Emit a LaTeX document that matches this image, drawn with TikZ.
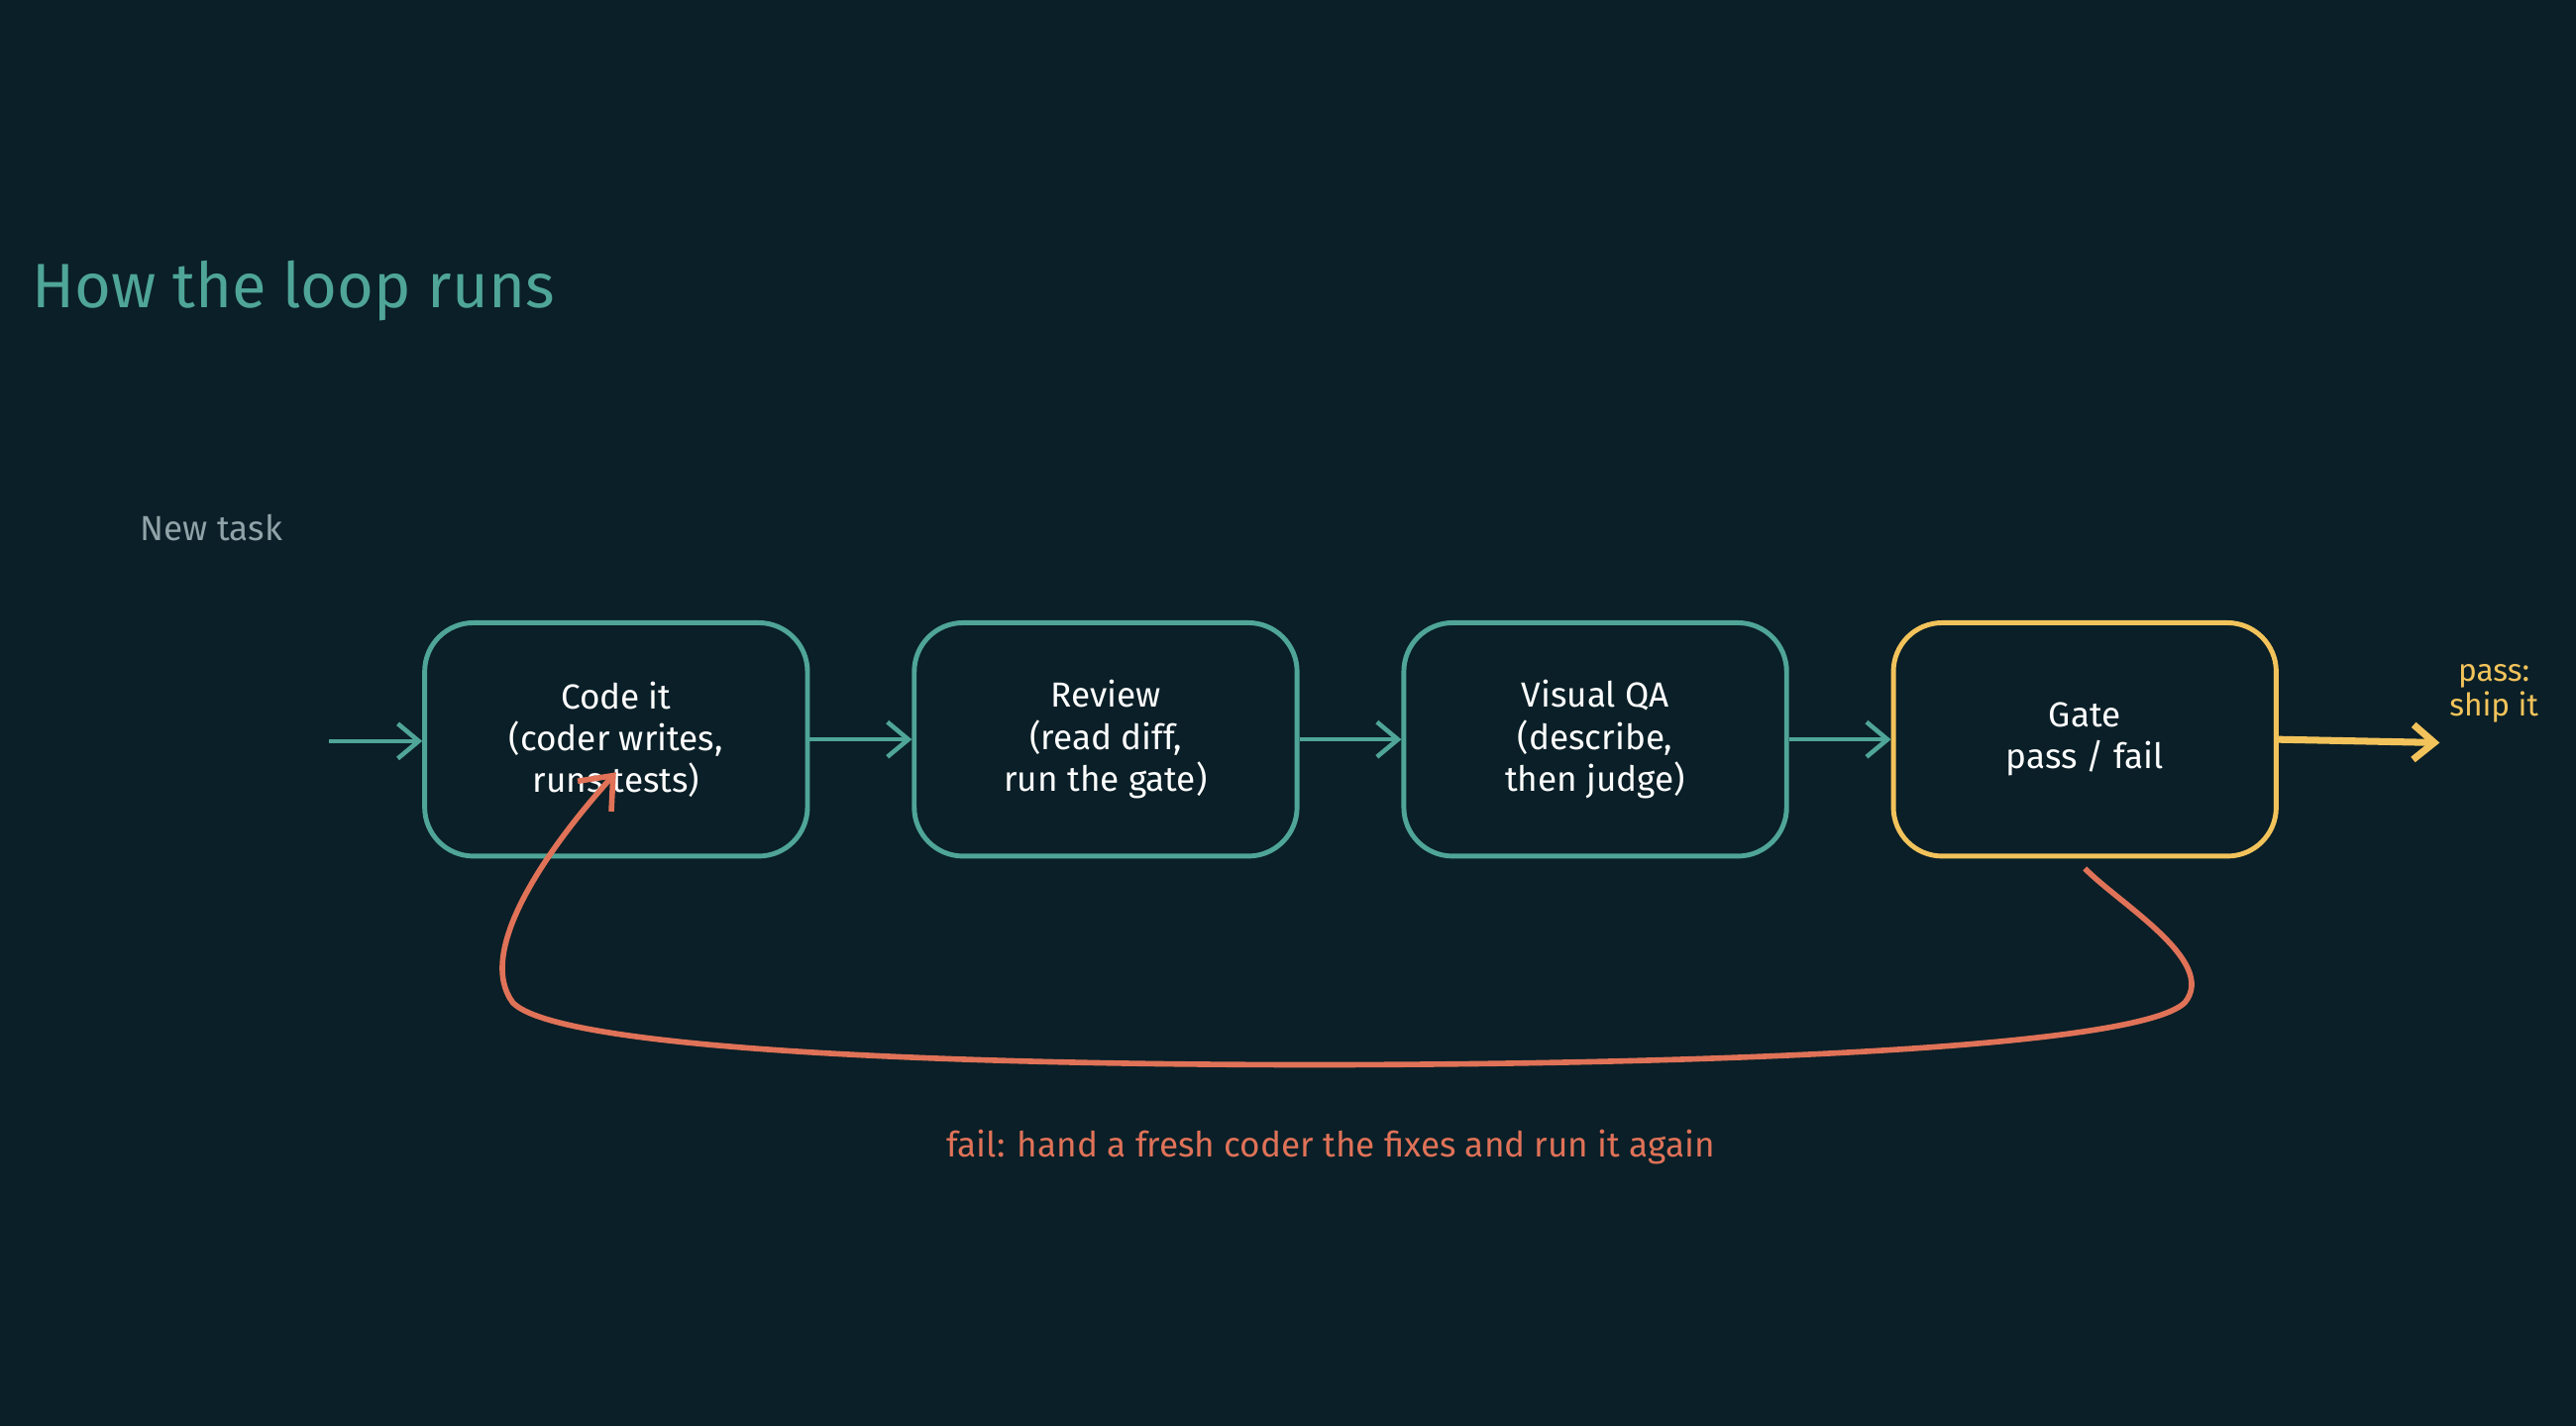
\documentclass[tikz,border=0pt]{standalone}
\usepackage{fontspec}
\setmainfont{Fira Sans}
\usetikzlibrary{arrows.meta}
\definecolor{bg}{HTML}{0A1F27}
\definecolor{teal}{HTML}{4FA597}
\definecolor{gold}{HTML}{F2C35B}
\definecolor{coral}{HTML}{E07258}
\definecolor{muted}{HTML}{8FA3A8}
\begin{document}
\begin{tikzpicture}[x=0.01658cm,y=-0.01658cm,
  box/.style={draw=teal,line width=1.4pt,rounded corners=14pt,minimum width=233*0.01658cm,minimum height=142*0.01658cm,align=center,text=white,font=\fontsize{10}{12}\selectfont},
  arr/.style={draw=teal,line width=1.3pt,-{Straight Barb[length=6pt,width=10pt]}}]
\fill[bg] (0,0) rectangle (1568,868);
\useasboundingbox (0,0) rectangle (1568,868);
\node[anchor=west,text=teal,font=\fontsize{18}{20}\selectfont] (title) at (12,177) {How the loop runs};
\node[anchor=west,text=muted,font=\fontsize{10}{12}\selectfont] (new) at (78,321) {New task};
\node[box] (code) at (375,450) {Code it\\(coder writes,\\runs tests)};
\node[box] (rev) at (673,450) {Review\\(read diff,\\run the gate)};
\node[box] (qa) at (971,450) {Visual QA\\(describe,\\then judge)};
\node[box,draw=gold] (gate) at (1269,450) {Gate\\pass / fail};
\coordinate (start) at (200,451);
\coordinate (ship) at (1485,452);
\node[align=center,text=gold,font=\fontsize{9}{10}\selectfont] (pass) at (1518,422) {pass:\\ship it};
\node[text=coral,font=\fontsize{10}{12}\selectfont] (fail) at (810,698) {fail: hand a fresh coder the fixes and run it again};
\draw[arr] (start) -- (start -| code.west);
\draw[arr] (code.east) -- (rev.west);
\draw[arr] (rev.east) -- (qa.west);
\draw[arr] (qa.east) -- (gate.west);
\draw[arr,draw=gold,line width=2pt] (gate.east) -- (ship);
\draw[draw=coral,line width=1.6pt,-{Straight Barb[length=8pt,width=13pt]}]
  ([yshift=-6*0.01658cm]gate.south) .. controls (1290,550) and (1350,585) .. (1330,610)
  .. controls (1300,640) and (1000,648) .. (800,648)
  .. controls (600,648) and (340,640) .. (312,610)
  .. controls (290,580) and (330,520) .. (375,470);
\end{tikzpicture}
\end{document}
